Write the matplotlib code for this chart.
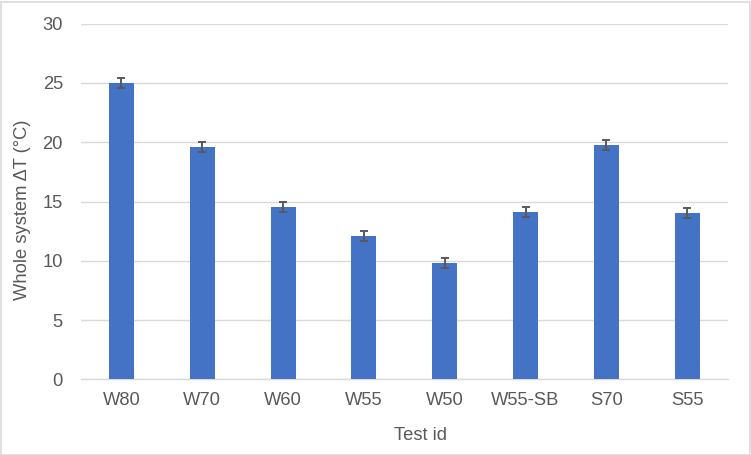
import matplotlib.pyplot as plt
import numpy as np

plt.rcParams['font.family'] = ['Liberation Sans', 'DejaVu Sans']

tests = ['W80', 'W70', 'W60', 'W55', 'W50', 'W55-SB', 'S70', 'S55']
delta_t = [25.0, 19.6, 14.5, 12.1, 9.8, 14.1, 19.8, 14.0]
err = [0.45, 0.45, 0.42, 0.45, 0.42, 0.42, 0.42, 0.42]

txt = '#595959'
grid = '#D9D9D9'
fs = 13.2

fig = plt.figure(figsize=(7.51, 4.55), dpi=100)
ax = fig.add_axes([81 / 751, 1 - 379.3 / 455, (727.7 - 81) / 751, (379.3 - 23.7) / 455])

x = np.arange(len(tests))
ax.bar(x, delta_t, width=0.31, color='#4472C4', zorder=3)
ax.errorbar(x, delta_t, yerr=err, fmt='none', ecolor=txt, elinewidth=1.4,
            capsize=2.9, capthick=1.4, zorder=4)

ax.set_xlim(-0.5, len(tests) - 0.5)
ax.set_ylim(0, 30)
ax.set_yticks(range(0, 31, 5))
ax.set_xticks(x)
ax.set_xticklabels(tests)
ax.grid(axis='y', color=grid, linewidth=1, zorder=0)
for s in ['top', 'right', 'left']:
    ax.spines[s].set_visible(False)
ax.spines['bottom'].set_color(grid)
ax.spines['bottom'].set_linewidth(1)
ax.tick_params(length=0, colors=txt, labelsize=fs)
ax.tick_params(axis='x', pad=9)
ax.tick_params(axis='y', pad=13)

fig.text(23 / 751, 1 - 210 / 455, 'Whole system ΔT (°C)', color=txt, fontsize=fs,
         rotation=90, ha='center', va='center')
fig.text(421 / 751, 1 - 436 / 455, 'Test id', color=txt, fontsize=fs,
         ha='center', va='center')

fig.patches.append(plt.Rectangle((0.5 / 751, 0.5 / 455), 749 / 751, 453 / 455,
                                 transform=fig.transFigure, fill=False,
                                 edgecolor=grid, linewidth=1.2))

fig.savefig('out.png', dpi=100)
